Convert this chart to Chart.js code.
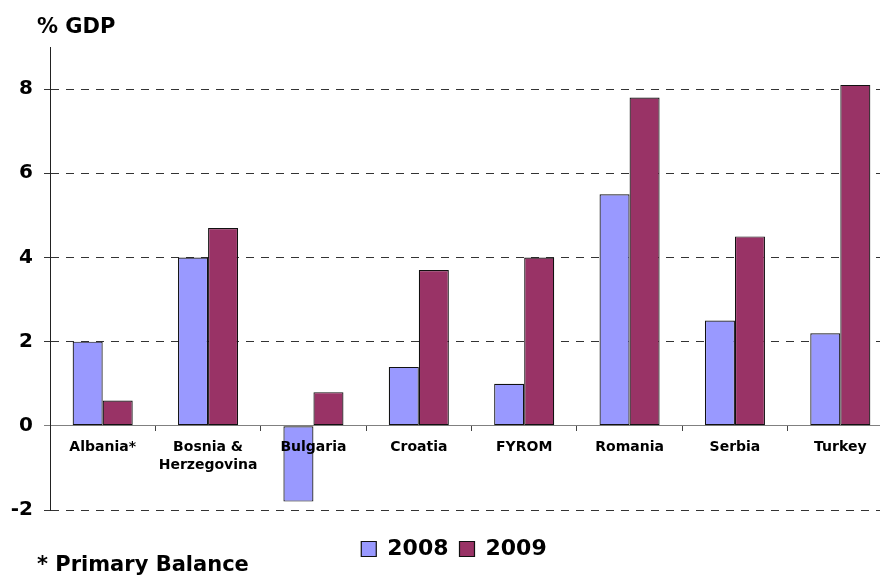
<!DOCTYPE html>
<html>
<head>
<meta charset="utf-8">
<script src="https://cdn.jsdelivr.net/npm/chart.js@4"></script>
<style>
  html, body { margin: 0; padding: 0; background: #fff; overflow: hidden; }
  #wrap { position: absolute; left: 0; top: 0; width: 893px; height: 577px; }
</style>
</head>
<body>
<div id="wrap"><canvas id="c" width="893" height="577"></canvas></div>
<script>
const categories = ['Albania*', ['Bosnia &', 'Herzegovina'], 'Bulgaria', 'Croatia', 'FYROM', 'Romania', 'Serbia', 'Turkey'];
const values2008 = [2.0, 4.0, -1.8, 1.4, 1.0, 5.5, 2.5, 2.2];
const values2009 = [0.6, 4.7, 0.8, 3.7, 4.0, 7.8, 4.5, 8.1];
const seriesNames = ['2008', '2009'];
const yTitle = '% GDP';
const footNote = '* Primary Balance';

const FONT = "'DejaVu Sans', Verdana, sans-serif";

// nudge the title blocks and legend horizontally after the library's layout
const boxNudge = {
  id: 'boxNudge',
  afterLayout(chart) {
    for (const b of chart.boxes) {
      if (b === chart.legend) {
        b.left += 15;
      } else if (b.options && (b.options.text === yTitle || b.options.text === footNote)) {
        b.left += 37;
      }
    }
  }
};

new Chart(document.getElementById('c'), {
  type: 'bar',
  data: {
    labels: categories,
    datasets: [
      { label: seriesNames[0], data: values2008, backgroundColor: '#9999FF', borderColor: '#111', borderWidth: 1.2, borderSkipped: false },
      { label: seriesNames[1], data: values2009, backgroundColor: '#993366', borderColor: '#111', borderWidth: 1.2, borderSkipped: false }
    ]
  },
  options: {
    responsive: false,
    animation: false,
    layout: { padding: 0 },
    datasets: { bar: { categoryPercentage: 0.57, barPercentage: 1.0 } },
    scales: {
      x: {
        type: 'category',
        position: 'bottom',
        display: true,
        grid: { display: false },
        border: { display: false },
        ticks: { display: false },
        afterFit(scale) { scale.height = 17; }
      },
      xz: {
        type: 'category',
        axis: 'x',
        position: { y: 0 },
        grid: { drawOnChartArea: false, drawTicks: true, tickLength: 5, offset: true, color: '#808080', tickColor: '#444' },
        border: { display: true, color: '#808080', width: 1 },
        ticks: {
          z: 1,
          color: '#000',
          padding: 7,
          maxRotation: 0,
          autoSkip: false,
          font: { family: FONT, size: 14, weight: 'bold', lineHeight: 1.3 }
        },
        afterFit(scale) { scale.height = 0; }
      },
      y: {
        position: 'left',
        min: -2,
        max: 9,
        ticks: {
          stepSize: 2,
          includeBounds: false,
          color: '#000',
          padding: 11,
          font: { family: FONT, size: 20, weight: 'bold' }
        },
        grid: {
          color: (ctx) => (ctx.tick && ctx.tick.value === 0) ? 'rgba(0,0,0,0)' : '#333',
          tickColor: (ctx) => (ctx.tick && ctx.tick.value === 0) ? '#808080' : '#333',
          tickLength: 6,
          lineWidth: 1
        },
        border: { display: true, color: '#222', width: 1, dash: [8, 7] },
        afterFit(scale) { scale.width = 50; }
      }
    },
    plugins: {
      legend: {
        position: 'bottom',
        labels: {
          boxWidth: 15,
          boxHeight: 15,
          padding: 11,
          color: '#000',
          font: { family: FONT, size: 22, weight: 'bold' }
        }
      },
      title: {
        display: true,
        text: yTitle,
        align: 'start',
        position: 'top',
        color: '#000',
        font: { family: FONT, size: 21, weight: 'bold', lineHeight: 1.2 },
        padding: { top: 14.5, bottom: 7.3 }
      },
      subtitle: {
        display: true,
        text: footNote,
        align: 'start',
        position: 'bottom',
        color: '#000',
        font: { family: FONT, size: 21, weight: 'bold', lineHeight: 1.2 },
        padding: { top: -16.6, bottom: -1.6 }
      },
      tooltip: { enabled: false }
    }
  },
  plugins: [boxNudge]
});
</script>
</body>
</html>
